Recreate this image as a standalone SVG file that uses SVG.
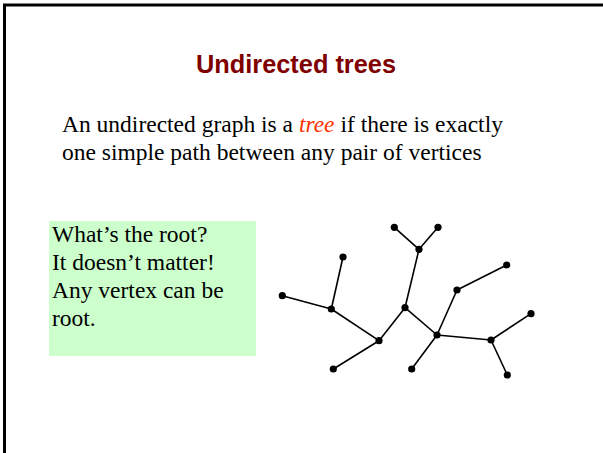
<svg xmlns="http://www.w3.org/2000/svg" width="603" height="453" viewBox="0 0 603 453">
<style>
.frame{fill:none;stroke:#000;stroke-width:3}
.title{font-family:"Liberation Sans",Arial,sans-serif;font-weight:bold;font-size:25px;fill:#800000}
.body{font-family:"Liberation Serif","Times New Roman",serif;font-size:23.5px;fill:#000}
.note{font-family:"Liberation Serif","Times New Roman",serif;font-size:23.5px;fill:#000}
.em{font-style:italic;fill:#FF3300}
.edge{stroke:#000;stroke-width:1.6;fill:none}
.v{fill:#000}
</style>
<rect class="frame" x="4.5" y="5" width="620" height="470"/>
<text class="title" x="296" y="73" text-anchor="middle" textLength="200" lengthAdjust="spacingAndGlyphs">Undirected trees</text>
<text class="body" x="62" y="132">An undirected graph is a <tspan class="em">tree</tspan> if there is exactly</text>
<text class="body" x="62" y="160">one simple path between any pair of vertices</text>
<g id="note">
<rect x="49" y="221" width="207" height="135" fill="#CCFFCC"/>
<text class="note" x="52" y="242">What’s the root?</text>
<text class="note" x="52" y="270">It doesn’t matter!</text>
<text class="note" x="52" y="298">Any vertex can be</text>
<text class="note" x="52" y="326">root.</text>
</g>
<g id="connectors">
<line class="edge" x1="394.3" y1="227.3" x2="419" y2="249.3"/>
<line class="edge" x1="438" y1="227.3" x2="419" y2="249.3"/>
<line class="edge" x1="419" y1="249.3" x2="405" y2="307.7"/>
<line class="edge" x1="343" y1="257" x2="331.3" y2="309"/>
<line class="edge" x1="282.3" y1="295.7" x2="331.3" y2="309"/>
<line class="edge" x1="331.3" y1="309" x2="379" y2="340.7"/>
<line class="edge" x1="379" y1="340.7" x2="405" y2="307.7"/>
<line class="edge" x1="379" y1="340.7" x2="333.3" y2="369"/>
<line class="edge" x1="405" y1="307.7" x2="437" y2="335"/>
<line class="edge" x1="437" y1="335" x2="457" y2="290"/>
<line class="edge" x1="457" y1="290" x2="506.7" y2="265"/>
<line class="edge" x1="437" y1="335" x2="411.7" y2="369"/>
<line class="edge" x1="437" y1="335" x2="491" y2="340"/>
<line class="edge" x1="491" y1="340" x2="531" y2="313.7"/>
<line class="edge" x1="491" y1="340" x2="507.3" y2="375"/>
</g>
<g id="vA"><circle class="v" cx="394.3" cy="227.3" r="3.6"/></g>
<g id="vB"><circle class="v" cx="438" cy="227.3" r="3.6"/></g>
<g id="vC"><circle class="v" cx="419" cy="249.3" r="3.6"/></g>
<g id="vD"><circle class="v" cx="343" cy="257" r="3.6"/></g>
<g id="vE"><circle class="v" cx="506.7" cy="265" r="3.6"/></g>
<g id="vF"><circle class="v" cx="282.3" cy="295.7" r="3.6"/></g>
<g id="vG"><circle class="v" cx="457" cy="290" r="3.6"/></g>
<g id="vH"><circle class="v" cx="331.3" cy="309" r="3.6"/></g>
<g id="vI"><circle class="v" cx="405" cy="307.7" r="3.6"/></g>
<g id="vJ"><circle class="v" cx="531" cy="313.7" r="3.6"/></g>
<g id="vK"><circle class="v" cx="379" cy="340.7" r="3.6"/></g>
<g id="vL"><circle class="v" cx="437" cy="335" r="3.6"/></g>
<g id="vM"><circle class="v" cx="491" cy="340" r="3.6"/></g>
<g id="vN"><circle class="v" cx="333.3" cy="369" r="3.6"/></g>
<g id="vO"><circle class="v" cx="411.7" cy="369" r="3.6"/></g>
<g id="vP"><circle class="v" cx="507.3" cy="375" r="3.6"/></g>
</svg>
